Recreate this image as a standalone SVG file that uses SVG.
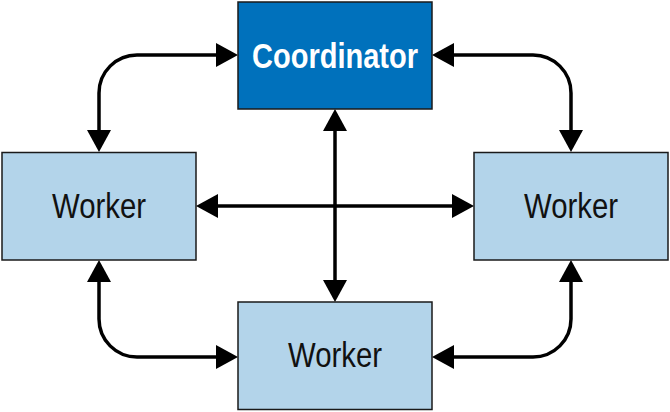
<svg xmlns="http://www.w3.org/2000/svg" width="670" height="412" viewBox="0 0 670 412">
<defs>
<style>
.box{stroke:#1a1a1a;stroke-width:1.5}
.coord{fill:#0071bc}
.worker{fill:#b3d4ea}
.lbl{font-family:"Liberation Sans Narrow","Liberation Sans",Arial,sans-serif;font-size:35px;text-anchor:middle;fill:#111}
.clbl{font-family:"Liberation Sans Narrow","Liberation Sans",Arial,sans-serif;font-size:35px;font-weight:bold;text-anchor:middle;fill:#fff}
.conn{fill:none;stroke:#000;stroke-width:3.5;marker-start:url(#ah);marker-end:url(#ah)}
</style>
<marker id="ah" markerUnits="userSpaceOnUse" markerWidth="24" markerHeight="26" viewBox="0 -13 23 26" refX="0" refY="0" orient="auto-start-reverse">
<path d="M0,-12 L22,0 L0,12 z" fill="#000"/>
</marker>
</defs>
<g id="connectors">
<path class="conn" d="M216,55 H137 A38,38 0 0 0 99,93 V130"/>
<path class="conn" d="M454,55 H533 A38,38 0 0 1 571,93 V130"/>
<path class="conn" d="M99,282 V319 A38,38 0 0 0 137,357 H216"/>
<path class="conn" d="M571,282 V319 A38,38 0 0 1 533,357 H454"/>
<path class="conn" d="M335,131 V280"/>
<path class="conn" d="M218,206 H452"/>
</g>
<g id="coordinator">
<rect class="box coord" x="238" y="2" width="194" height="107"/>
<text class="clbl" x="335" y="68" textLength="166" lengthAdjust="spacingAndGlyphs">Coordinator</text>
</g>
<g id="worker-left">
<rect class="box worker" x="2" y="152.5" width="194" height="107.5"/>
<text class="lbl" x="99" y="218" textLength="94" lengthAdjust="spacingAndGlyphs">Worker</text>
</g>
<g id="worker-right">
<rect class="box worker" x="474" y="152.5" width="194" height="107.5"/>
<text class="lbl" x="571" y="218" textLength="94" lengthAdjust="spacingAndGlyphs">Worker</text>
</g>
<g id="worker-bottom">
<rect class="box worker" x="238" y="302" width="194" height="107.5"/>
<text class="lbl" x="335" y="367" textLength="94" lengthAdjust="spacingAndGlyphs">Worker</text>
</g>
</svg>
